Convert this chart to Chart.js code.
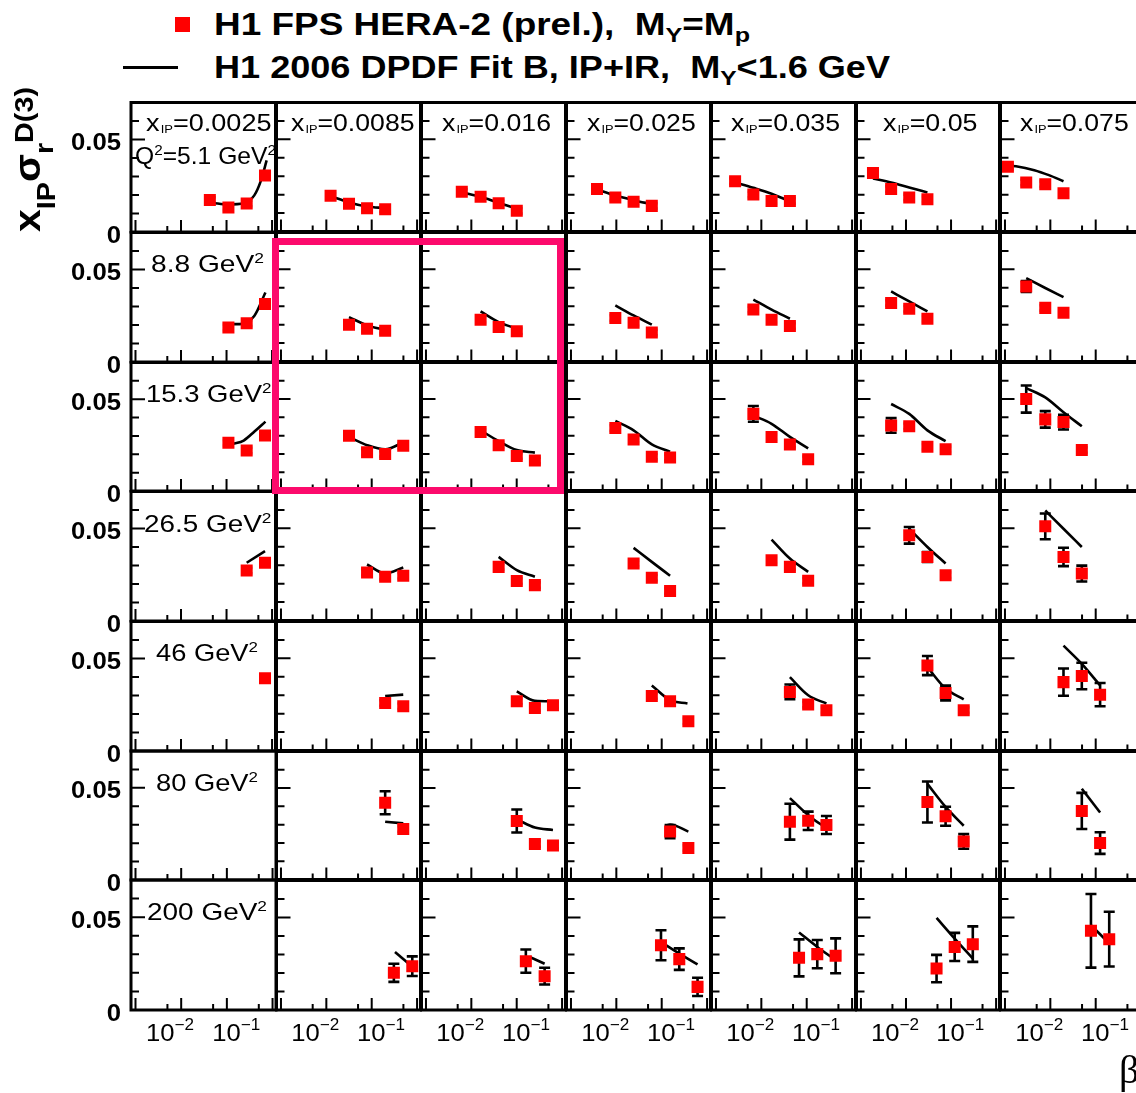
<!DOCTYPE html>
<html><head><meta charset="utf-8"><title>H1 FPS HERA-2 reduced cross section</title>
<script src="https://cdn.jsdelivr.net/npm/chart.js@4.4.1/dist/chart.umd.min.js"></script>
<style>
html,body{margin:0;padding:0;background:#fff}
#root{position:relative;width:1136px;height:1093px;overflow:hidden;background:#fff}
#root canvas{position:absolute}
.t{position:absolute;white-space:nowrap;color:#000;line-height:1;font-family:"Liberation Sans",Arial,Helvetica,sans-serif}
.bl{display:inline-block;width:0;height:0;vertical-align:baseline}
.sup{font-size:0.62em;position:relative;top:-0.6em}
.ip{font-size:0.48em;position:relative;top:0.15em;margin-left:1px}
.sub{font-size:0.68em;position:relative;top:0.32em}
#hl{position:absolute;left:272px;top:238px;width:292px;height:256px;box-sizing:border-box;border:7.5px solid #fc0a6c}
#legmk{position:absolute;left:175px;top:17px;width:15px;height:15px;background:#f00}
#legln{position:absolute;left:123px;top:65.5px;width:55px;height:3px;background:#000}
</style></head>
<body><div id="root"><div id="legmk"></div><div id="legln"></div></div>
<script>
// ---------------- data ----------------
const xIP = [0.0025, 0.0085, 0.016, 0.025, 0.035, 0.05, 0.075];
const xIPText = ['0.0025', '0.0085', '0.016', '0.025', '0.035', '0.05', '0.075'];
const Q2 = [5.1, 8.8, 15.3, 26.5, 46, 80, 200];
const yTickLabels = ['0', '0.05'];
const yTickLabelValues = [0, 0.05];
const xTickLabels = [['10', '\u22122'], ['10', '\u22121']];
const xTickLabelValues = [0.0057, 0.16];
const xMajorTicks = [0.001, 0.01, 0.1, 1];
const xMinorTicks = [0.005, 0.05, 0.5];
const yMinorTicks = [0.01, 0.02, 0.03, 0.04, 0.06];
const yMajorTicks = [0.05];

// Q2 = 5.1 GeV2
const beta_q5p1 = [[0.043,0.110,0.277,0.70],[0.0124,0.0316,0.079,0.198],[0.00616,0.016,0.040,0.1004],[0.00375,0.0095,0.024,0.0605],[0.00264,0.00667,0.0168,0.0426],[0.00185,0.00468,0.0118,0.0299],[0.00116,0.00294,0.00773,0.0195]];
const sigma_q5p1 = [[0.0173,0.0133,0.0154,0.0306],[0.0194,0.0151,0.0126,0.0121],[0.0216,0.0189,0.0153,0.0112],[0.0230,0.0185,0.0162,0.0139],[0.0273,0.0201,0.0166,0.0166],[0.0318,0.0230,0.0185,0.0175],[0.0351,0.0266,0.0257,0.0207]];
const err_q5p1 = [[0.0015,0.0015,0.0015,0.0015],[0.0015,0.0015,0.0015,0.0015],[0.0015,0.0015,0.0015,0.0015],[0.0015,0.0015,0.0015,0.0015],[0.0015,0.0015,0.0015,0.0015],[0.0015,0.0015,0.0015,0.0015],[0.0015,0.0015,0.0015,0.0015]];
const fitBeta_q5p1 = [[0.0495,0.107,0.242,0.407,0.572,0.76],[0.0124,0.0316,0.079,0.198],[0.00616,0.016,0.040,0.1004],[0.00375,0.0095,0.024,0.0605],[0.00264,0.00667,0.0168,0.0323],[0.00185,0.00468,0.0118,0.0299],[0.00091,0.00175,0.00443,0.0093,0.0195]];
const fitSigma_q5p1 = [[0.0157,0.0149,0.0157,0.0198,0.0279,0.0387],[0.0192,0.0158,0.0136,0.0127],[0.0213,0.0188,0.0155,0.0125],[0.0228,0.0195,0.0170,0.0148],[0.0266,0.0237,0.0205,0.0176],[0.0288,0.0266,0.0239,0.0212],[0.0360,0.0354,0.0333,0.0306,0.0273]];

// Q2 = 8.8 GeV2
const beta_q8p8 = [[0.110,0.277,0.70],[0.0316,0.079,0.198],[0.016,0.040,0.1004],[0.0095,0.024,0.0605],[0.00667,0.0168,0.0426],[0.00468,0.0118,0.0299],[0.00294,0.00773,0.0195]];
const sigma_q8p8 = [[0.0187,0.0209,0.0313],[0.0200,0.0178,0.0167],[0.0227,0.0187,0.0164],[0.0236,0.0210,0.0157],[0.0282,0.0227,0.0193],[0.0318,0.0286,0.0232],[0.0407,0.0291,0.0264]];
const err_q8p8 = [[0.0015,0.0015,0.0015],[0.0015,0.0015,0.0015],[0.0015,0.0015,0.0015],[0.0015,0.0015,0.0015],[0.0015,0.0015,0.0015],[0.0015,0.0015,0.0015],[0.0030,0.0015,0.0015]];
const fitBeta_q8p8 = [[0.108,0.198,0.41,0.715],[0.0316,0.079,0.198],[0.016,0.040,0.1004],[0.0095,0.024,0.0605],[0.00667,0.0168,0.0426],[0.00468,0.0118,0.0299],[0.00294,0.00773,0.0195]];
const fitSigma_q8p8 = [[0.0205,0.0205,0.0250,0.0376],[0.0241,0.0196,0.0171],[0.0272,0.0214,0.0178],[0.0304,0.0250,0.0200],[0.0336,0.0282,0.0232],[0.0380,0.0326,0.0272],[0.0452,0.0399,0.0349]];

// Q2 = 15.3 GeV2
const beta_q15p3 = [[0.110,0.277,0.70],[0.0316,0.079,0.198,0.496],[0.016,0.040,0.1004,0.2516],[0.0095,0.024,0.0605,0.153],[0.00667,0.0168,0.0426,0.1077],[0.00468,0.0118,0.0299,0.0757],[0.00294,0.00773,0.0195,0.0494]];
const sigma_q15p3 = [[0.0263,0.0221,0.0302],[0.0299,0.0209,0.0200,0.0245],[0.0320,0.0248,0.0189,0.0164],[0.0342,0.0279,0.0185,0.0180],[0.0419,0.0293,0.0252,0.0171],[0.0356,0.0351,0.0239,0.0225],[0.0500,0.0389,0.0374,0.0221]];
const err_q15p3 = [[0.0015,0.0015,0.0015],[0.0015,0.0015,0.0015,0.0015],[0.0015,0.0015,0.0015,0.0015],[0.0015,0.0015,0.0015,0.0015],[0.0043,0.0015,0.0015,0.0015],[0.0040,0.0015,0.0015,0.0015],[0.0074,0.0045,0.0040,0.0015]];
const fitBeta_q15p3 = [[0.1375,0.238,0.41,0.715],[0.0316,0.079,0.198,0.496],[0.016,0.040,0.1004,0.2516],[0.0095,0.024,0.0605,0.153],[0.00667,0.0168,0.0426,0.1077],[0.00468,0.0118,0.0299,0.0757],[0.00294,0.00773,0.0195,0.0494]];
const fitSigma_q15p3 = [[0.0257,0.0275,0.0324,0.0378],[0.0293,0.0248,0.0225,0.0263],[0.0329,0.0270,0.0221,0.0207],[0.0380,0.0329,0.0252,0.0212],[0.0410,0.0365,0.0293,0.0230],[0.0473,0.0419,0.0329,0.0270],[0.0560,0.0509,0.0428,0.0351]];

// Q2 = 26.5 GeV2
const beta_q26p5 = [[0.277,0.70],[0.079,0.198,0.496],[0.040,0.1004,0.2516],[0.024,0.0605,0.153],[0.0168,0.0426,0.1077],[0.0118,0.0299,0.0757],[0.00773,0.0195,0.0494]];
const sigma_q26p5 = [[0.0273,0.0315],[0.0261,0.0237,0.0243],[0.0291,0.0214,0.0192],[0.0309,0.0232,0.0160],[0.0327,0.0291,0.0216],[0.0462,0.0345,0.0246],[0.0511,0.0345,0.0255]];
const err_q26p5 = [[0.0015,0.0015],[0.0015,0.0015,0.0015],[0.0015,0.0015,0.0015],[0.0015,0.0015,0.0015],[0.0015,0.0015,0.0015],[0.0045,0.0027,0.0015],[0.0070,0.0050,0.0043]];
const fitBeta_q26p5 = [[0.277,0.70],[0.079,0.198,0.496],[0.040,0.1004,0.2516],[0.024,0.0605,0.153],[0.0168,0.0426,0.1077],[0.0118,0.0299,0.0757],[0.00773,0.0195,0.0494]];
const fitSigma_q26p5 = [[0.0315,0.0378],[0.0304,0.0255,0.0288],[0.0345,0.0273,0.0237],[0.0394,0.0318,0.0243],[0.0439,0.0336,0.0264],[0.0498,0.0399,0.0309],[0.0597,0.0498,0.0399]];

// Q2 = 46 GeV2
const beta_q46 = [[0.70],[0.198,0.496],[0.1004,0.2516,0.63],[0.0605,0.153,0.387],[0.0426,0.1077,0.272],[0.0299,0.0757,0.191],[0.0195,0.0494,0.125]];
const sigma_q46 = [[0.0393],[0.0258,0.0240],[0.0267,0.0231,0.0246],[0.0296,0.0267,0.0159],[0.0318,0.0249,0.0219],[0.0461,0.0312,0.0219],[0.0371,0.0404,0.0303]];
const err_q46 = [[0.0015],[0.0015,0.0015],[0.0015,0.0015,0.0015],[0.0015,0.0015,0.0015],[0.0040,0.0015,0.0015],[0.0052,0.0040,0.0015],[0.0074,0.0072,0.0063]];
const fitBeta_q46 = [[],[0.198,0.496],[0.1004,0.2516,0.63],[0.0605,0.153,0.37],[0.0426,0.1077,0.272],[0.0299,0.0757,0.191],[0.0195,0.0494,0.125]];
const fitSigma_q46 = [[],[0.0296,0.0303],[0.0321,0.0270,0.0267],[0.0353,0.0273,0.0255],[0.0398,0.0300,0.0255],[0.0452,0.0336,0.0278],[0.0569,0.0470,0.0353]];

// Q2 = 80 GeV2
const beta_q80 = [[],[0.198,0.496],[0.1004,0.2516,0.63],[0.153,0.387],[0.0426,0.1077,0.272],[0.0299,0.0757,0.191],[0.0494,0.125]];
const sigma_q80 = [[],[0.0420,0.0276],[0.0320,0.0194,0.0186],[0.0262,0.0172],[0.0316,0.0321,0.0298],[0.0424,0.0346,0.0208],[0.0375,0.0199]];
const err_q80 = [[],[0.0063,0.0015],[0.0063,0.0015,0.0015],[0.0036,0.0015],[0.0098,0.0050,0.0049],[0.0112,0.0052,0.0040],[0.0099,0.0059]];
const fitBeta_q80 = [[],[0.198,0.496],[0.108,0.2516,0.63],[0.123,0.153,0.387],[0.0426,0.1077,0.272],[0.0299,0.0757,0.191],[0.0494,0.125]];
const fitSigma_q80 = [[],[0.0316,0.0307],[0.0325,0.0284,0.0271],[0.0294,0.0301,0.0262],[0.0445,0.0352,0.0280],[0.0523,0.0397,0.0294],[0.0496,0.0366]];

// Q2 = 200 GeV2
const beta_q200 = [[],[0.308,0.784],[0.159,0.4126],[0.0964,0.244,0.617],[0.0678,0.171,0.434],[0.0477,0.1205,0.304],[0.0786,0.1986]];
const sigma_q200 = [[],[0.0201,0.0237],[0.0264,0.0183],[0.0350,0.0275,0.0125],[0.0282,0.0302,0.0293],[0.0224,0.0341,0.0356],[0.0428,0.0383]];
const err_q200 = [[],[0.0049,0.0053],[0.0063,0.0045],[0.0081,0.0058,0.0049],[0.0100,0.0076,0.0094],[0.0074,0.0076,0.0096],[0.0199,0.0148]];
const fitBeta_q200 = [[],[0.326,0.741],[0.191,0.4126],[0.0964,0.244,0.617],[0.0678,0.171,0.434],[0.0477,0.1205,0.304],[0.0786,0.1986]];
const fitSigma_q200 = [[],[0.0314,0.0239],[0.0287,0.0250],[0.0368,0.0305,0.0246],[0.0419,0.0341,0.0270],[0.0498,0.0386,0.0278],[0.0458,0.0360]];

const BETA = [beta_q5p1, beta_q8p8, beta_q15p3, beta_q26p5, beta_q46, beta_q80, beta_q200];
const SIGMA = [sigma_q5p1, sigma_q8p8, sigma_q15p3, sigma_q26p5, sigma_q46, sigma_q80, sigma_q200];
const ERR = [err_q5p1, err_q8p8, err_q15p3, err_q26p5, err_q46, err_q80, err_q200];
const FIT_BETA = [fitBeta_q5p1, fitBeta_q8p8, fitBeta_q15p3, fitBeta_q26p5, fitBeta_q46, fitBeta_q80, fitBeta_q200];
const FIT_SIGMA = [fitSigma_q5p1, fitSigma_q8p8, fitSigma_q15p3, fitSigma_q26p5, fitSigma_q46, fitSigma_q80, fitSigma_q200];

// ---------------- layout ----------------
const X_MIN = 0.000797, X_MAX = 1.19, Y_MIN = 0, Y_MAX = 0.07;
const colX = [131, 276, 421, 566, 711, 856, 1000, 1145];
const rowY = [102, 232, 362, 491, 621, 751, 880, 1010];
const root = document.getElementById('root');

function scaledText(ctx, text, x, y, font, sx, align) {
  ctx.save(); ctx.font = font; ctx.translate(x, y); ctx.scale(sx, 1);
  ctx.textAlign = align; ctx.textBaseline = 'alphabetic'; ctx.fillStyle = '#000';
  ctx.fillText(text, 0, 0); ctx.restore();
}

const panelDeco = {
  id: 'panelDeco',
  beforeDatasetsDraw(chart) {
    const { ctx, scales: { x, y } } = chart;
    const ds = chart.data.datasets[1];
    ctx.save(); ctx.strokeStyle = '#000'; ctx.lineWidth = 2.6; ctx.lineCap = 'butt';
    ds.data.forEach((p, i) => {
      const e = ds.errors[i]; if (!e) return;
      const px = x.getPixelForValue(p.x);
      const y1 = y.getPixelForValue(p.y - e), y2 = y.getPixelForValue(p.y + e);
      ctx.beginPath();
      ctx.moveTo(px, y1); ctx.lineTo(px, y2);
      ctx.moveTo(px - 5.5, y1); ctx.lineTo(px + 5.5, y1);
      ctx.moveTo(px - 5.5, y2); ctx.lineTo(px + 5.5, y2);
      ctx.stroke();
    });
    ctx.restore();
  },
  afterDraw(chart, args, o) {
    const { ctx, chartArea: a, scales: { x, y } } = chart;
    ctx.save();
    ctx.strokeStyle = '#000'; ctx.lineWidth = 2; ctx.beginPath();
    xMajorTicks.forEach(v => { const px = x.getPixelForValue(v); ctx.moveTo(px, a.bottom); ctx.lineTo(px, a.bottom - 12); });
    xMinorTicks.forEach(v => { const px = x.getPixelForValue(v); ctx.moveTo(px, a.bottom); ctx.lineTo(px, a.bottom - 6); });
    yMinorTicks.forEach(v => { const py = y.getPixelForValue(v); ctx.moveTo(a.left, py); ctx.lineTo(a.left + 8, py); });
    yMajorTicks.forEach(v => { const py = y.getPixelForValue(v); ctx.moveTo(a.left, py); ctx.lineTo(a.left + 14, py); });
    ctx.stroke();
    ctx.lineWidth = 3;
    ctx.strokeRect(a.left, a.top, a.right - a.left, a.bottom - a.top);
    if (o.yLabels) {
      const f = 'bold 23px "Liberation Sans", Arial, sans-serif';
      ctx.font = f; const s = 50 / ctx.measureText('0.05').width;
      yTickLabelValues.forEach((v, i) => {
        scaledText(ctx, yTickLabels[i], a.left - 10, y.getPixelForValue(v) + 10.5, f, s, 'right');
      });
    }
    if (o.xLabels) {
      const f1 = '24px "Liberation Sans", Arial, sans-serif', f2 = '16px "Liberation Sans", Arial, sans-serif';
      xTickLabelValues.forEach((v, i) => {
        const [b, e] = xTickLabels[i];
        ctx.font = f1; const w1 = ctx.measureText(b).width;
        ctx.font = f2; const w2 = ctx.measureText(e).width;
        const s = 48 / (w1 + w2);
        const cx = x.getPixelForValue(v), base = a.bottom + 31;
        const left = cx - 24;
        scaledText(ctx, b, left, base, f1, s, 'left');
        scaledText(ctx, e, left + w1 * s, base - 11, f2, s, 'left');
      });
    }
    ctx.restore();
  }
};

for (let r = 0; r < 7; r++) {
  for (let c = 0; c < 7; c++) {
    const padL = c === 0 ? colX[0] : 8, padR = 8, padT = 8;
    const padB = r === 6 ? 1093 - rowY[7] : (c === 0 ? 16 : 8);
    const W = colX[c + 1] - colX[c], H = rowY[r + 1] - rowY[r];
    const cv = document.createElement('canvas');
    cv.width = W + padL + padR; cv.height = H + padT + padB;
    cv.style.left = (colX[c] - padL) + 'px'; cv.style.top = (rowY[r] - padT) + 'px';
    root.appendChild(cv);
    const beta = BETA[r][c], sig = SIGMA[r][c], err = ERR[r][c];
    const fb = FIT_BETA[r][c], fs = FIT_SIGMA[r][c];
    new Chart(cv, {
      type: 'scatter',
      data: {
        datasets: [
          { label: 'H1 2006 DPDF Fit B, IP+IR', data: fb.map((b, i) => ({ x: b, y: fs[i] })), showLine: true,
            borderColor: '#000', borderWidth: 2.6, pointRadius: 0, cubicInterpolationMode: 'monotone', order: 2 },
          { label: 'H1 FPS HERA-2 (prel.)', data: beta.map((b, i) => ({ x: b, y: sig[i] })), errors: err,
            pointStyle: 'rect', pointRadius: 8.5, backgroundColor: '#ff0000', borderColor: '#ff0000', borderWidth: 0, order: 1 }
        ]
      },
      options: {
        responsive: false, animation: false, devicePixelRatio: 1, events: [],
        layout: { padding: { left: padL, right: padR, top: padT, bottom: padB } },
        plugins: { legend: { display: false }, tooltip: { enabled: false }, panelDeco: { yLabels: c === 0, xLabels: r === 6 } },
        scales: {
          x: { type: 'logarithmic', min: X_MIN, max: X_MAX, display: false },
          y: { type: 'linear', min: Y_MIN, max: Y_MAX, display: false }
        }
      },
      plugins: [panelDeco]
    });
  }
}

// ---------------- text ----------------
function addText(html, o) {
  const el = document.createElement('div'); el.className = 't';
  el.style.font = o.font; el.innerHTML = html + '<span class="bl"></span>';
  root.appendChild(el);
  const b = el.querySelector('.bl').offsetTop;
  const w = el.getBoundingClientRect().width;
  const s = o.w ? o.w / w : 1;
  const left = o.cx !== undefined ? o.cx - w * s / 2 : o.x;
  el.style.left = left + 'px'; el.style.top = (o.y - b) + 'px';
  el.style.transformOrigin = '0px ' + b + 'px';
  el.style.transform = (o.rot ? 'rotate(-90deg) ' : '') + 'scaleX(' + s + ')';
  return el;
}
const FN = '"Liberation Sans", Arial, Helvetica, sans-serif';

addText('H1 FPS HERA-2 (prel.),&nbsp; M<span class="sub">Y</span>=M<span class="sub">p</span>', { x: 214, y: 35, w: 536, font: 'bold 31px/1 ' + FN });
addText('H1 2006 DPDF Fit B, IP+IR,&nbsp; M<span class="sub">Y</span>&lt;1.6 GeV', { x: 214, y: 78, w: 676, font: 'bold 31px/1 ' + FN });

addText('x<span style="font-size:26px;position:relative;top:15px">IP</span>\u03c3<span style="font-size:26px;position:relative;top:13px">r</span><span style="font-size:26px;position:relative;top:-7px">D(3)</span>',
  { x: 40, y: 232, w: 145, rot: true, font: 'bold 37px/1 ' + FN });

const topBox = [[145.5, 125.5], [291, 123.5], [442, 109], [586.5, 108.7], [730.8, 109], [882.5, 94.5], [1020, 108.7]];
xIP.forEach((v, c) => {
  addText('x<span class="ip">IP</span>=' + xIPText[c], { x: topBox[c][0], y: 131, w: topBox[c][1], font: '24px/1 ' + FN });
});

const q2Box = [[135, 141, 164], [151, 113, 272], [145.5, 125.5, 402], [143.6, 127.4, 532], [156, 102, 661], [156, 102, 791], [147, 120, 920]];
Q2.forEach((q, r) => {
  const html = (r === 0 ? 'Q<span class="sup">2</span>=' : '') + q + ' GeV<span class="sup">2</span>';
  addText(html, { x: q2Box[r][0], y: q2Box[r][2], w: q2Box[r][1], font: '24px/1 ' + FN });
});

addText('\u03b2', { x: 1119, y: 1083, font: '40px/1 "Liberation Serif", "DejaVu Serif", serif' });

const hl = document.createElement('div'); hl.id = 'hl'; root.appendChild(hl);
</script>
</body></html>
